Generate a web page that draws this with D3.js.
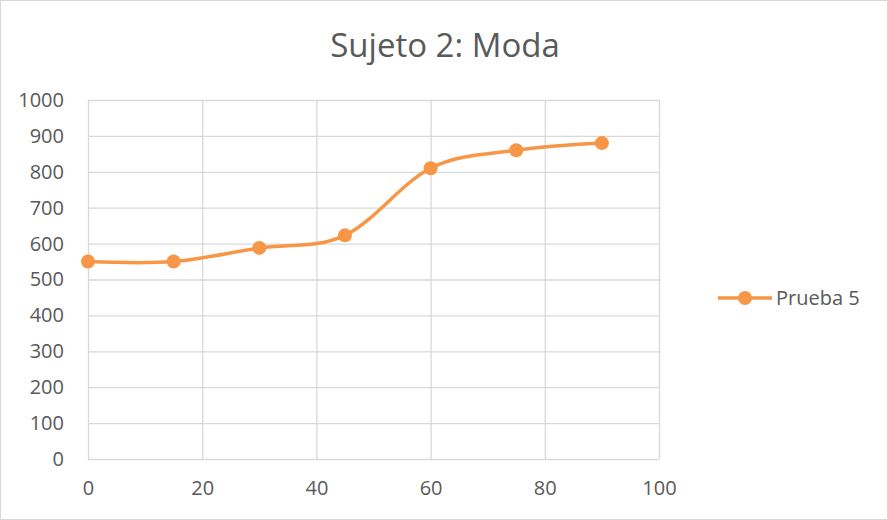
<!DOCTYPE html>
<html>
<head>
<meta charset="utf-8">
<script src="https://cdn.jsdelivr.net/npm/d3@7"></script>
<style>
  html, body { margin: 0; padding: 0; background: #fff; }
  svg { display: block; }
</style>
</head>
<body>
<svg id="chart" width="888" height="520"></svg>
<script>
// Series data
const chartTitle = "Sujeto 2: Moda";
const seriesName = "Prueba 5";
const xValues = [0, 15, 30, 45, 60, 75, 90];
const yValues = [550, 550, 588, 623, 810, 860, 880];
const xTicks = [0, 20, 40, 60, 80, 100];
const yTicks = [0, 100, 200, 300, 400, 500, 600, 700, 800, 900, 1000];

const W = 888, H = 520;
const plot = { left: 88, right: 659, top: 100, bottom: 459 };
const orange = "#F79646";
const textColor = "#595959";
const gridColor = "#D9D9D9";
const font = "'Open Sans', 'Noto Sans', sans-serif";
const fmt = d3.format("d");

const svg = d3.select("#chart");

// Chart frame
svg.append("rect")
  .attr("x", 0.5).attr("y", 0.5)
  .attr("width", W - 1).attr("height", H - 1)
  .attr("fill", "#fff").attr("stroke", "#D9D9D9");

const x = d3.scaleLinear().domain([0, 100]).range([plot.left, plot.right]);
const y = d3.scaleLinear().domain([0, 1000]).range([plot.bottom, plot.top]);

// Vertical gridlines
svg.append("g")
  .attr("transform", `translate(0,${plot.bottom})`)
  .call(d3.axisBottom(x).tickValues(xTicks).tickSize(-(plot.bottom - plot.top)).tickFormat(""))
  .call(g => g.select(".domain").remove())
  .call(g => g.selectAll("line").attr("stroke", gridColor).attr("stroke-width", 1.3));

// Horizontal gridlines
svg.append("g")
  .attr("transform", `translate(${plot.left},0)`)
  .call(d3.axisLeft(y).tickValues(yTicks).tickSize(-(plot.right - plot.left)).tickFormat(""))
  .call(g => g.select(".domain").remove())
  .call(g => g.selectAll("line").attr("stroke", gridColor).attr("stroke-width", 1.3));

// Tick labels
svg.append("g")
  .attr("transform", `translate(0,${plot.bottom})`)
  .call(d3.axisBottom(x).tickValues(xTicks).tickFormat(fmt).tickSize(0).tickPadding(22))
  .call(g => g.select(".domain").remove())
  .call(g => g.selectAll("text")
    .attr("fill", textColor).attr("font-family", font).attr("font-size", 20));

svg.append("g")
  .attr("transform", `translate(${plot.left},0)`)
  .call(d3.axisLeft(y).tickValues(yTicks).tickFormat(fmt).tickSize(0).tickPadding(24))
  .call(g => g.select(".domain").remove())
  .call(g => g.selectAll("text")
    .attr("fill", textColor).attr("font-family", font).attr("font-size", 20));

// Title
svg.append("text")
  .attr("x", 445).attr("y", 57)
  .attr("text-anchor", "middle")
  .attr("fill", textColor)
  .attr("font-family", font)
  .attr("font-size", 33)
  .text(chartTitle);

// Smoothed line
const data = xValues.map((v, i) => ({ x: v, y: yValues[i] }));
const line = d3.line()
  .x(d => x(d.x)).y(d => y(d.y))
  .curve(d3.curveCatmullRom.alpha(0));

svg.append("path")
  .datum(data)
  .attr("d", line)
  .attr("fill", "none")
  .attr("stroke", orange)
  .attr("stroke-width", 3.5)
  .attr("stroke-linecap", "round");

svg.append("g")
  .selectAll("circle")
  .data(data)
  .join("circle")
  .attr("cx", d => x(d.x))
  .attr("cy", d => y(d.y))
  .attr("r", 7)
  .attr("fill", orange);

// Legend
const legend = svg.append("g").attr("transform", "translate(718,298)");
legend.append("line")
  .attr("x1", 0).attr("x2", 54).attr("y1", 0).attr("y2", 0)
  .attr("stroke", orange).attr("stroke-width", 3.5);
legend.append("circle")
  .attr("cx", 27).attr("cy", 0).attr("r", 7).attr("fill", orange);
legend.append("text")
  .attr("x", 58).attr("y", 0).attr("dy", "0.35em")
  .attr("fill", textColor)
  .attr("font-family", font)
  .attr("font-size", 20)
  .text(seriesName);
</script>
</body>
</html>
